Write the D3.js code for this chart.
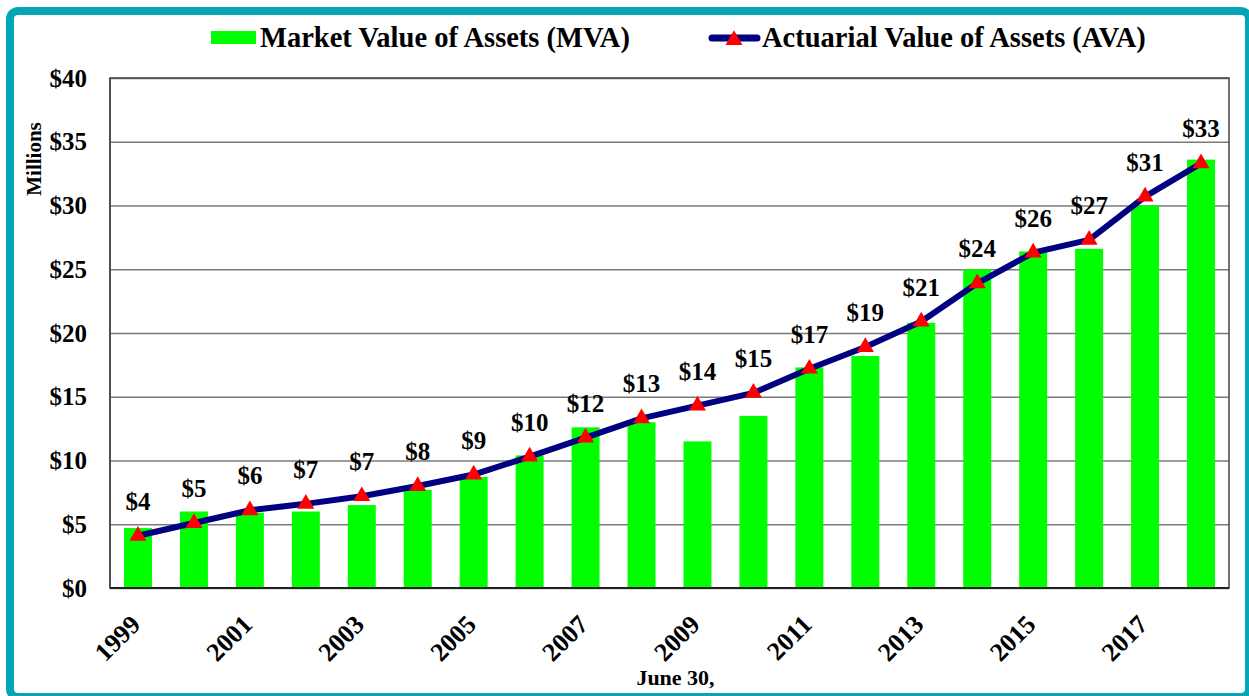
<!DOCTYPE html>
<html>
<head>
<meta charset="utf-8">
<script src="https://cdn.jsdelivr.net/npm/d3@7"></script>
<style>
  body { margin: 0; background: #fff; }
  svg text { font-family: "Liberation Serif", "Times New Roman", serif; font-weight: bold; fill: #000; }
</style>
</head>
<body>
<div id="chart"></div>
<script>
// ===========Data
var years = [1999, 2000, 2001, 2002, 2003, 2004, 2005, 2006, 2007, 2008,
             2009, 2010, 2011, 2012, 2013, 2014, 2015, 2016, 2017, 2018];
var mvaValues = [4.7, 6.0, 5.9, 6.0, 6.5, 7.7, 8.7, 10.4, 12.6, 13.0,
                 11.5, 13.5, 17.3, 18.2, 20.8, 25.0, 26.4, 26.6, 30.0, 33.6];
var avaValues = [4.1, 5.1, 6.1, 6.6, 7.2, 8.0, 8.9, 10.3, 11.8, 13.3,
                 14.3, 15.3, 17.2, 18.9, 20.9, 23.9, 26.3, 27.3, 30.7, 33.3];
var yTicks = [0, 5, 10, 15, 20, 25, 30, 35, 40];
var xTickYears = [1999, 2001, 2003, 2005, 2007, 2009, 2011, 2013, 2015, 2017];

// ===========Set Height, Width and Margins
var svgWidth = 1249;
var svgHeight = 696;
var margin = { top: 78, right: 20, bottom: 108, left: 110 };
var width = svgWidth - margin.left - margin.right;
var height = svgHeight - margin.top - margin.bottom;

var svg = d3.select("#chart").append("svg")
    .attr("width", svgWidth)
    .attr("height", svgHeight);

// teal frame
svg.append("rect")
    .attr("x", 10).attr("y", 11)
    .attr("width", 1239).attr("height", 686)
    .attr("rx", 8)
    .attr("fill", "#fff")
    .attr("stroke", "#02A6B7")
    .attr("stroke-width", 8);

var chartGroup = svg.append("g")
    .attr("transform", `translate(${margin.left}, ${margin.top})`);

// ==========Scales
var xScale = d3.scaleBand()
    .domain(years)
    .range([0, width])
    .paddingInner(0.5)
    .paddingOuter(0.25);

var yScale = d3.scaleLinear()
    .domain([0, 40])
    .range([height, 0]);

// ==========Gridlines
chartGroup.append("g")
    .attr("class", "grid")
    .call(d3.axisLeft(yScale).tickValues(yTicks).tickSize(-width).tickFormat(""))
    .call(g => g.select(".domain").remove())
    .call(g => g.selectAll("line").attr("stroke", "#7a7a7a").attr("stroke-width", 1.5));

// plot border
chartGroup.append("rect")
    .attr("width", width).attr("height", height)
    .attr("fill", "none")
    .attr("stroke", "#444")
    .attr("stroke-width", 1.5);

// ==========Y axis
var yAxis = chartGroup.append("g")
    .call(d3.axisLeft(yScale).tickValues(yTicks).tickSize(0).tickPadding(23)
        .tickFormat(d => "$" + d));
yAxis.select(".domain").remove();
yAxis.selectAll("text").attr("font-size", "25px");

// ==========Bars
chartGroup.selectAll(".bar")
    .data(years)
    .enter()
    .append("rect")
    .attr("class", "bar")
    .attr("x", d => xScale(d))
    .attr("width", xScale.bandwidth())
    .attr("y", (d, i) => yScale(mvaValues[i]))
    .attr("height", (d, i) => height - yScale(mvaValues[i]))
    .attr("fill", "#00FF00");

// axis lines on top of bars
chartGroup.append("line")
    .attr("x1", 0).attr("x2", width)
    .attr("y1", height).attr("y2", height)
    .attr("stroke", "#222").attr("stroke-width", 2);
chartGroup.append("line")
    .attr("x1", 0).attr("x2", 0)
    .attr("y1", 0).attr("y2", height)
    .attr("stroke", "#444").attr("stroke-width", 1.5);

// ==========X axis labels
var cx = d => xScale(d) + xScale.bandwidth() / 2;
chartGroup.selectAll(".xlabel")
    .data(xTickYears)
    .enter()
    .append("text")
    .attr("class", "xlabel")
    .attr("transform", d => `translate(${cx(d) + 4}, ${height + 38}) rotate(-45)`)
    .attr("text-anchor", "end")
    .attr("font-size", "26px")
    .text(d => d);

// ==========AVA line
var line = d3.line()
    .x((d, i) => cx(years[i]))
    .y(d => yScale(d));

chartGroup.append("path")
    .datum(avaValues)
    .attr("d", line)
    .attr("fill", "none")
    .attr("stroke", "#000080")
    .attr("stroke-width", 6)
    .attr("stroke-linejoin", "round");

var triangle = d3.symbol().type(d3.symbolTriangle).size(125);
chartGroup.selectAll(".marker")
    .data(avaValues)
    .enter()
    .append("path")
    .attr("class", "marker")
    .attr("d", triangle)
    .attr("transform", (d, i) => `translate(${cx(years[i])}, ${yScale(d)})`)
    .attr("fill", "#FF0000");

// ==========Data labels
chartGroup.selectAll(".vlabel")
    .data(avaValues)
    .enter()
    .append("text")
    .attr("class", "vlabel")
    .attr("x", (d, i) => cx(years[i]))
    .attr("y", d => yScale(d) - 26)
    .attr("text-anchor", "middle")
    .attr("font-size", "25px")
    .text(d => "$" + Math.round(d));

// ==========Axis titles
svg.append("text")
    .attr("transform", `translate(41, 159) rotate(-90)`)
    .attr("text-anchor", "middle")
    .attr("font-size", "21px")
    .text("Millions");

svg.append("text")
    .attr("x", margin.left + width / 2 + 6)
    .attr("y", 685)
    .attr("text-anchor", "middle")
    .attr("font-size", "22px")
    .text("June 30,");

// ==========Legend
var legend = svg.append("g");
legend.append("rect")
    .attr("x", 211).attr("y", 31)
    .attr("width", 45).attr("height", 13)
    .attr("fill", "#00FF00");
legend.append("text")
    .attr("x", 260).attr("y", 47)
    .attr("font-size", "28.5px")
    .text("Market Value of Assets (MVA)");

legend.append("line")
    .attr("x1", 712).attr("x2", 757)
    .attr("y1", 38).attr("y2", 38)
    .attr("stroke", "#000080")
    .attr("stroke-width", 7)
    .attr("stroke-linecap", "round");
legend.append("path")
    .attr("d", triangle)
    .attr("transform", "translate(734, 40)")
    .attr("fill", "#FF0000");
legend.append("text")
    .attr("x", 762).attr("y", 47)
    .attr("font-size", "28.5px")
    .text("Actuarial Value of Assets (AVA)");
</script>
</body>
</html>
